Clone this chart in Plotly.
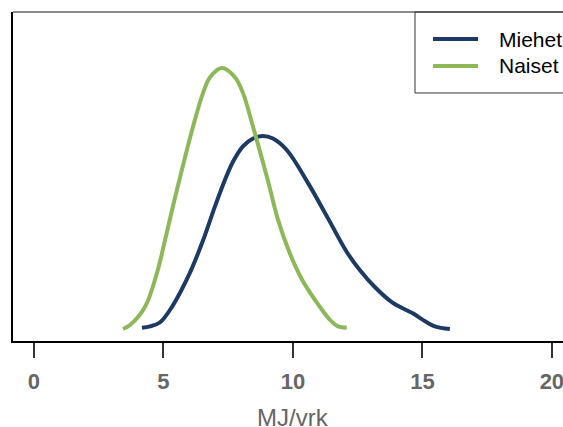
import plotly.graph_objects as go

# Naiset (women) density curve
naiset_x = [3.44, 3.71, 4.29, 4.75, 5.06, 5.33, 5.75, 6.14, 6.53, 6.80, 7.26,
            7.76, 8.07, 8.46, 9.03, 9.42, 9.88, 10.35, 11.04, 11.43, 11.74, 12.08]
naiset_y = [0.000, 0.003, 0.017, 0.043, 0.068, 0.091, 0.125, 0.155, 0.181, 0.193, 0.200,
            0.193, 0.181, 0.155, 0.114, 0.084, 0.058, 0.038, 0.017, 0.007, 0.002, 0.001]

# Miehet (men) density curve
miehet_x = [4.17, 4.48, 4.86, 5.33, 6.02, 6.53, 6.99, 7.37, 7.68, 8.07, 8.46, 8.84,
            9.23, 9.77, 10.58, 11.35, 12.08, 12.59, 13.17, 13.86, 14.63, 15.02, 15.48, 16.06]
miehet_y = [0.001, 0.002, 0.005, 0.017, 0.043, 0.068, 0.094, 0.114, 0.128, 0.140, 0.146, 0.148,
            0.146, 0.137, 0.112, 0.085, 0.059, 0.045, 0.032, 0.020, 0.012, 0.007, 0.002, 0.000]

series_names = ["Miehet", "Naiset"]
x_ticks = [0, 5, 10, 15, 20]
x_title = "MJ/vrk"

BLUE = "#1c3a63"
GREEN = "#8db85a"
FONT = "Liberation Sans, Arial, Helvetica, sans-serif"

fig = go.Figure()
fig.add_trace(go.Scatter(x=miehet_x, y=miehet_y, mode="lines", name=series_names[0],
                         line=dict(color=BLUE, width=4, shape="spline", smoothing=1.0)))
fig.add_trace(go.Scatter(x=naiset_x, y=naiset_y, mode="lines", name=series_names[1],
                         line=dict(color=GREEN, width=4, shape="spline", smoothing=1.0)))

# manual legend (R-style box legend)
shapes = [
    dict(type="line", xref="paper", yref="paper", x0=0, x1=1, y0=1, y1=1,
         line=dict(color="#666666", width=1.5)),
    dict(type="rect", xref="paper", yref="paper", x0=0.7309, x1=1.05, y0=0.7538, y1=1.0,
         line=dict(color="#333333", width=1), fillcolor="rgba(0,0,0,0)"),
]
annotations = []
leg_y = [0.9179, 0.8359]
for name, col, yy in zip(series_names, [BLUE, GREEN], leg_y):
    shapes.append(dict(type="line", xref="paper", yref="paper", x0=0.7636, x1=0.8455,
                       y0=yy, y1=yy, line=dict(color=col, width=4)))
    annotations.append(dict(xref="paper", yref="paper", x=0.88, y=yy, xanchor="left",
                            yanchor="middle", text=name, showarrow=False,
                            font=dict(size=21, color="black", family=FONT)))

# x-axis title (R centres it on the full, partly clipped plot region)
annotations.append(dict(xref="x", yref="paper", x=10, y=-0.232, xanchor="center",
                        yanchor="middle", text=x_title, showarrow=False,
                        font=dict(size=24, color="#666666", family=FONT)))

fig.update_layout(
    width=563, height=427,
    margin=dict(l=13, r=0, t=12, b=86),
    plot_bgcolor="white", paper_bgcolor="white",
    font=dict(family=FONT),
    showlegend=False,
    xaxis=dict(range=[-0.81, 20.43], tickvals=x_ticks, ticktext=[str(t) for t in x_ticks],
               automargin=False,
               showgrid=False, zeroline=False, showline=True, linecolor="black", linewidth=1.5,
               ticks="outside", ticklen=15, tickwidth=1.5, tickcolor="#333333",
               tickfont=dict(size=22, color="#666666", family=FONT, weight="bold"),
               ticklabeloverflow="allow", ticklabelstandoff=5),
    yaxis=dict(range=[-0.0092, 0.243], showgrid=False, zeroline=False, showticklabels=False,
               automargin=False,
               showline=True, linecolor="black", linewidth=1.5, ticks=""),
    shapes=shapes,
    annotations=annotations,
)

fig.write_html("out.html")
